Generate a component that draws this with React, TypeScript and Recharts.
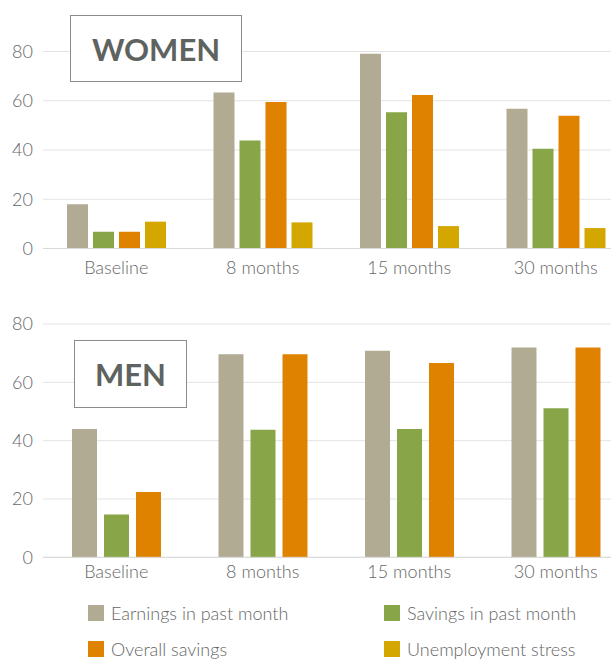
import { BarChart, Bar, XAxis, YAxis, CartesianGrid } from 'recharts';

const periods = ['Baseline', '8 months', '15 months', '30 months'];
const yTicks = [0, 20, 40, 60, 80];

const womenEarnings = [18, 63.4, 79.1, 56.8];
const womenSavingsMonth = [6.8, 43.9, 55.3, 40.5];
const womenOverall = [6.8, 59.5, 62.3, 53.9];
const womenStress = [10.9, 10.6, 9.1, 8.3];

const menEarnings = [44, 69.6, 70.8, 71.9];
const menSavingsMonth = [14.7, 43.7, 44, 51.1];
const menOverall = [22.4, 69.6, 66.6, 71.9];

const seriesNames = [
  'Earnings in past month',
  'Savings in past month',
  'Overall savings',
  'Unemployment stress',
];
const seriesColors = ['#b2ab93', '#88a548', '#df8200', '#d4a600'];

const womenData = periods.map((p, i) => ({
  period: p,
  earnings: womenEarnings[i],
  savingsMonth: womenSavingsMonth[i],
  overall: womenOverall[i],
  stress: womenStress[i],
}));

const menData = periods.map((p, i) => ({
  period: p,
  earnings: menEarnings[i],
  savingsMonth: menSavingsMonth[i],
  overall: menOverall[i],
}));

const FONT = 'Lato, "Open Sans", sans-serif';
const tickStyle = { fill: '#666', fontSize: 18, fontFamily: FONT, fontWeight: 300 };

function TitleBox({ text, left, top, width, height }: { text: string; left: number; top: number; width: number; height: number }) {
  return (
    <div
      style={{
        position: 'absolute', left, top, width, height, boxSizing: 'border-box',
        border: '1px solid #8a8c8b', background: '#fff', display: 'flex',
        alignItems: 'center', justifyContent: 'center', fontFamily: FONT,
        fontWeight: 700, fontSize: 31, color: '#5e6360',
      }}
    >
      {text}
    </div>
  );
}

export default function App() {
  const keys = ['earnings', 'savingsMonth', 'overall', 'stress'];
  return (
    <div style={{ position: 'absolute', left: 0, top: 0, width: 611, height: 659, overflow: 'hidden', background: '#fff' }}>
      <div style={{ position: 'absolute', left: 0, top: 0 }}>
        <BarChart
          width={640}
          height={290}
          data={womenData}
          margin={{ top: 51.5, right: 11, left: 0, bottom: 11.5 }}
          barSize={21}
          barGap={5}
        >
          <CartesianGrid vertical={false} stroke="#e3e3e3" />
          <XAxis
            dataKey="period"
            height={30}
            tickSize={0}
            tickMargin={13}
            axisLine={{ stroke: '#d9d9d9' }}
            tick={tickStyle}
          />
          <YAxis
            width={43}
            domain={[0, 80]}
            ticks={yTicks}
            tickSize={0}
            tickMargin={10}
            axisLine={false}
            tick={tickStyle}
          />
          {keys.map((k, i) => (
            <Bar key={k} dataKey={k} name={seriesNames[i]} fill={seriesColors[i]} isAnimationActive={false} />
          ))}
        </BarChart>
      </div>
      <TitleBox text="WOMEN" left={70} top={15} width={172} height={67} />

      <div style={{ position: 'absolute', left: 0, top: 290 }}>
        <BarChart
          width={640}
          height={310}
          data={menData}
          margin={{ top: 34, right: 11, left: 0, bottom: 12.7 }}
          barSize={25}
          barGap={7}
        >
          <CartesianGrid vertical={false} stroke="#e3e3e3" />
          <XAxis
            dataKey="period"
            height={30}
            tickSize={0}
            tickMargin={8}
            axisLine={{ stroke: '#d9d9d9' }}
            tick={tickStyle}
          />
          <YAxis
            width={43}
            domain={[0, 80]}
            ticks={yTicks}
            tickSize={0}
            tickMargin={10}
            axisLine={false}
            tick={tickStyle}
          />
          {keys.slice(0, 3).map((k, i) => (
            <Bar key={k} dataKey={k} name={seriesNames[i]} fill={seriesColors[i]} isAnimationActive={false} />
          ))}
        </BarChart>
      </div>
      <TitleBox text="MEN" left={74} top={340} width={113} height={68} />

      {seriesNames.map((name, i) => (
        <div
          key={name}
          style={{
            position: 'absolute',
            left: i % 2 === 0 ? 88 : 384,
            top: i < 2 ? 605 : 641,
            height: 16,
            display: 'flex',
            alignItems: 'center',
            fontFamily: FONT,
            fontSize: 18,
            fontWeight: 300,
            color: '#666',
            whiteSpace: 'nowrap',
          }}
        >
          <span style={{ display: 'inline-block', width: 16, height: 16, background: seriesColors[i], marginRight: 7 }} />
          {name}
        </div>
      ))}
    </div>
  );
}
